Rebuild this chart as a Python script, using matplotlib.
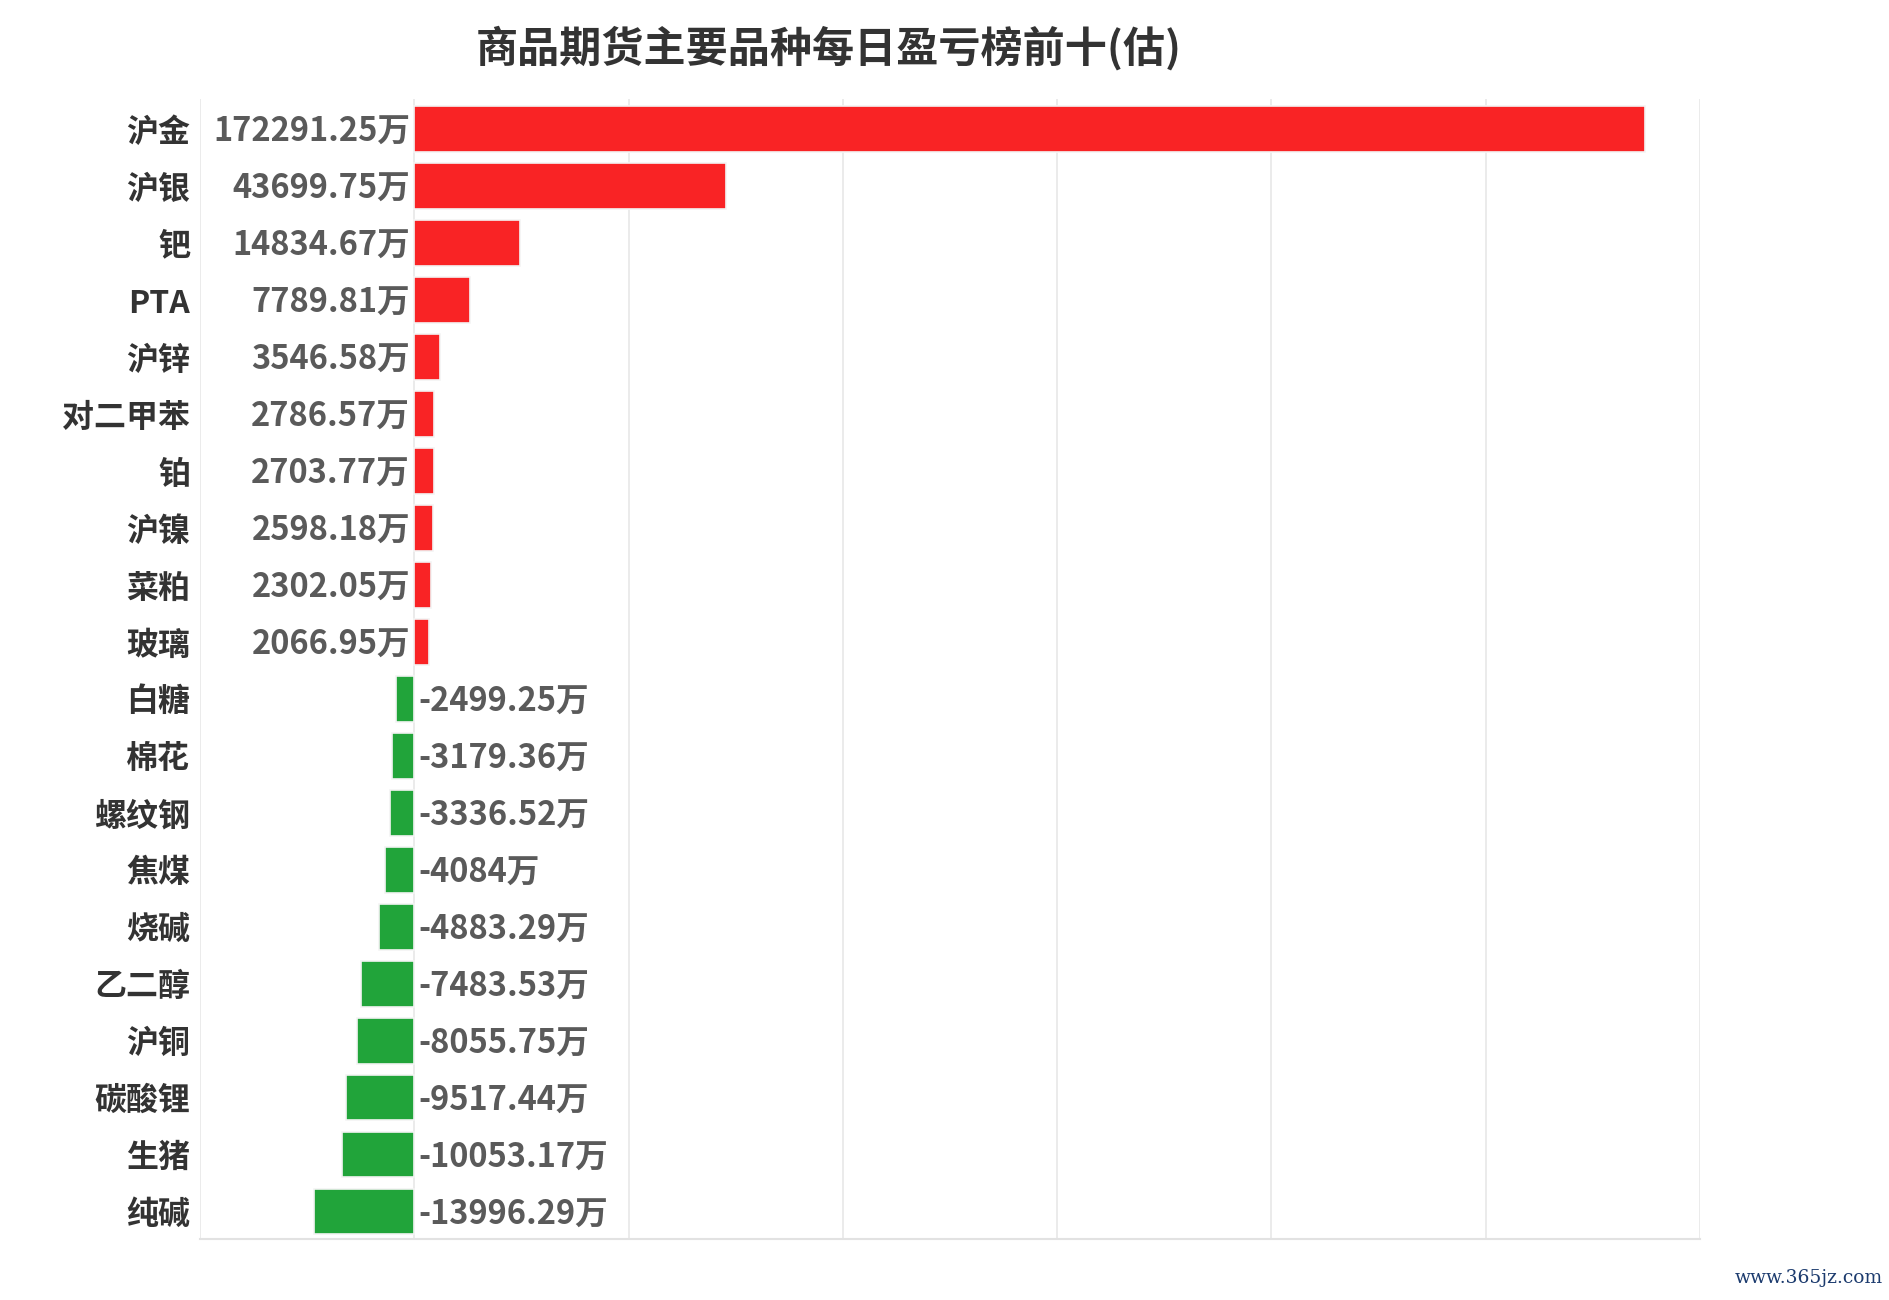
import matplotlib
matplotlib.use("Agg")
import matplotlib.pyplot as plt

plt.rcParams['font.family'] = ['Noto Sans CJK SC', 'DejaVu Sans']

# 品种 与 当日盈亏(万)
names = ['沪金', '沪银', '钯', 'PTA', '沪锌', '对二甲苯', '铂', '沪镍', '菜粕', '玻璃',
         '白糖', '棉花', '螺纹钢', '焦煤', '烧碱', '乙二醇', '沪铜', '碳酸锂', '生猪', '纯碱']
values = [172291.25, 43699.75, 14834.67, 7789.81, 3546.58, 2786.57, 2703.77, 2598.18,
          2302.05, 2066.95, -2499.25, -3179.36, -3336.52, -4084, -4883.29, -7483.53,
          -8055.75, -9517.44, -10053.17, -13996.29]
labels = ['172291.25万', '43699.75万', '14834.67万', '7789.81万', '3546.58万', '2786.57万',
          '2703.77万', '2598.18万', '2302.05万', '2066.95万', '-2499.25万', '-3179.36万',
          '-3336.52万', '-4084万', '-4883.29万', '-7483.53万', '-8055.75万', '-9517.44万',
          '-10053.17万', '-13996.29万']
x_ticks = [-30000, 0, 30000, 60000, 90000, 120000, 150000, 180000]

RED = '#f92325'
GREEN = '#21a43a'

fig = plt.figure(figsize=(18.9, 13), dpi=100)
ax = fig.add_axes([200 / 1890, 61 / 1300, 1500 / 1890, 1140 / 1300])

pos = list(range(len(names)))
colors = [RED if v >= 0 else GREEN for v in values]
bars = ax.barh(pos, values, height=0.8, color=colors, edgecolor='#f4f4f4', linewidth=1.2, zorder=3)

# 数值标签
for y, v, lab in zip(pos, values, labels):
    if v >= 0:
        ax.annotate(lab, (0, y), xytext=(-3, 0), textcoords='offset points',
                    ha='right', va='center_baseline', fontsize=23.5, fontweight='bold', color='#5a5a5a')
    else:
        ax.annotate(lab, (0, y), xytext=(3, 0), textcoords='offset points',
                    ha='left', va='center_baseline', fontsize=23.5, fontweight='bold', color='#5a5a5a')

ax.set_xlim(-30000, 180000)
ax.set_ylim(len(names) - 0.52, -0.53)
ax.set_xticks(x_ticks)
ax.set_xticklabels([])
ax.set_yticks(pos)
ax.set_yticklabels(names, fontsize=23, fontweight='bold', color='#333333')
ax.tick_params(axis='both', length=0)
ax.tick_params(axis='y', pad=7)

ax.grid(axis='x', color='#e8e8e8', linewidth=1.2, zorder=0)
for s in ['top', 'right', 'left']:
    ax.spines[s].set_visible(False)
ax.spines['bottom'].set_color('#e2e2e2')
ax.spines['bottom'].set_linewidth(1.5)

fig.text(0.4386, 0.963, '商品期货主要品种每日盈亏榜前十(估)', ha='center', va='center',
         fontsize=30.3, fontweight='bold', color='#333333')
fig.text(0.996, 0.01, 'www.365jz.com', ha='right', va='bottom', fontsize=13.5,
         color='#1c3b6e', family='DejaVu Serif')

fig.savefig('out.png', dpi=100, facecolor='white')
